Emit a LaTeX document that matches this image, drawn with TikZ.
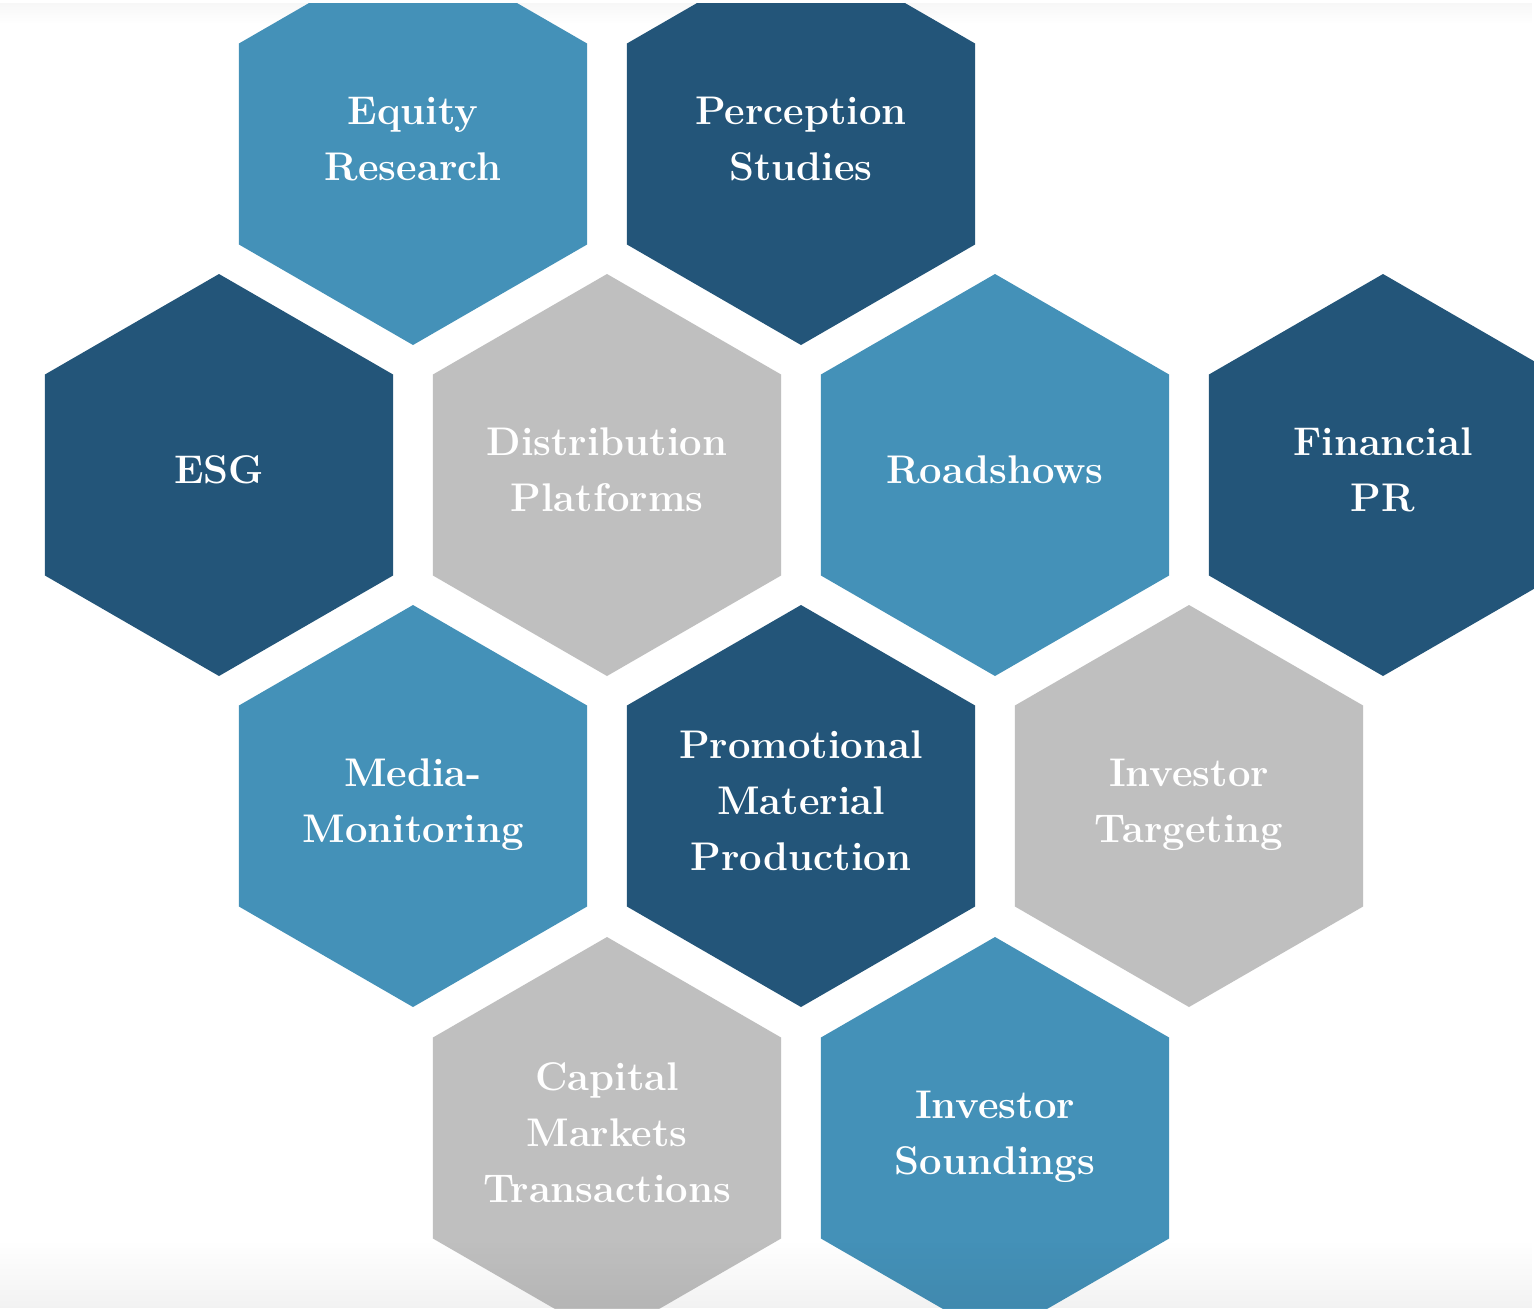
\documentclass[tikz,border=0pt]{standalone}
\usepackage{fontspec}
\usepackage{xcolor}
\usepackage{tikz}
\usetikzlibrary{fadings}

\definecolor{hexlight}{HTML}{4491B8}
\definecolor{hexdark}{HTML}{235579}
\definecolor{hexgrey}{HTML}{BFBFBF}

\tikzset{
  hexlabel/.style={text=white, align=center, inner sep=0pt, text depth=0pt,
    font=\fontsize{20}{28}\selectfont\bfseries}
}

\begin{document}
\begin{tikzpicture}[x=0.5pt,y=-0.5pt]
\useasboundingbox (0,0) rectangle (1534,1308);
\fill[white] (0,0) rectangle (1534,1308);
\clip (0,3) rectangle (1534,1308);
% faint band along the top edge
\fill[black, opacity=0.03, path fading=south] (0,3) rectangle (1534,24);
% honeycomb: centre x / centre y / colour / name / text
\foreach \cx/\cy/\col/\name/\txt in {
    413/144/hexlight/equity/{Equity\\Research},
    801/144/hexdark/percep/{Perception\\Studies},
    219/475/hexdark/esg/{ESG},
    607/475/hexgrey/distrib/{Distribution\\Platforms},
    995/475/hexlight/roadsh/{Roadshows},
    1383/475/hexdark/finpr/{Financial\\PR},
    413/806/hexlight/media/{Media-\\Monitoring},
    801/806/hexdark/promo/{Promotional\\Material\\Production},
    1189/806/hexgrey/target/{Investor\\Targeting},
    607/1138/hexgrey/capmkt/{Capital\\Markets\\Transactions},
    995/1138/hexlight/sound/{Investor\\Soundings}}
{
  \fill[\col] (\cx,\cy) +(90:201) -- +(30:201) -- +(-30:201) -- +(-90:201)
      -- +(-150:201) -- +(150:201) -- cycle;
  \node[hexlabel] (\name) at (\cx,\cy-5) {\txt};
}
% soft shadow along the bottom edge
\fill[black, opacity=0.05, path fading=north] (0,1240) rectangle (1534,1308);
\end{tikzpicture}
\end{document}
